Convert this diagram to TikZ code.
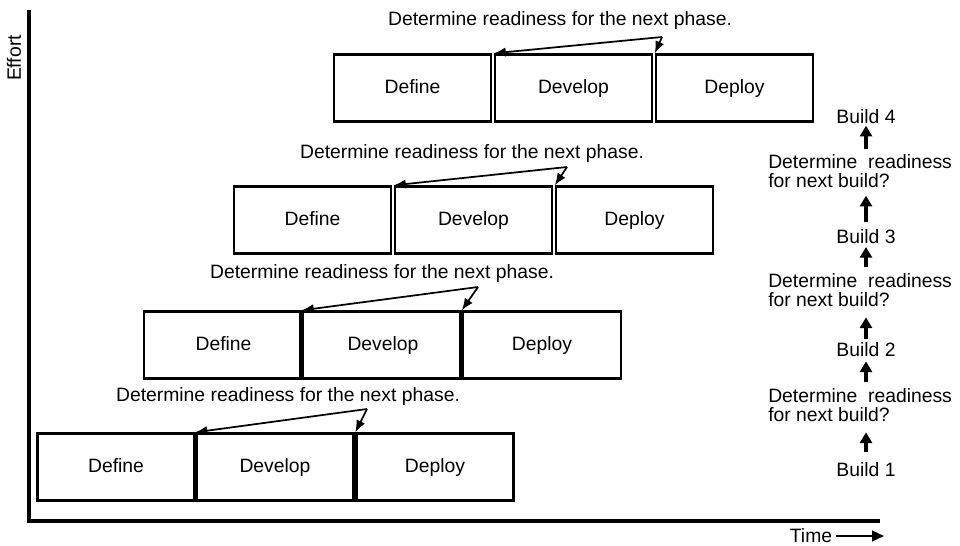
\documentclass[tikz,border=0pt]{standalone}
\usepackage{fontspec}
\setmainfont{Liberation Sans}
\usetikzlibrary{arrows.meta}
\begin{document}
\begin{tikzpicture}[x=0.75pt,y=-0.75pt,
  every node/.style={font=\fontsize{14.5}{14}\selectfont},
  phasebox/.style={draw, line width=1.8pt, minimum width=117.75pt, minimum height=50.25pt, inner sep=0pt, text height=10.5pt, text depth=3pt},
  lbl/.style={inner sep=0pt},
  parrow/.style={line width=1.3pt, -{Latex[length=9pt,width=7pt]}},
  barrow/.style={line width=2.6pt, -{Triangle[length=8pt,width=9pt]}},
  axis/.style={line width=2.4pt},
  thicksep/.style={line width=3.8pt}]
\useasboundingbox (0,0) rectangle (960,546);

% axes
\coordinate (ytop) at (29,10);
\coordinate (xend) at (880,521);
\draw[axis] (ytop) |- (xend);
\node[lbl, rotate=90] (effort) at (14,58) {Effort};
\node[lbl] (time) at (811,536) {Time};
\coordinate (tend) at (884,536);
\draw[line width=1.8pt, -{Triangle[length=9pt,width=8pt]}, shorten <=3pt] (time.east) -- (tend);

% row 1
\node[phasebox] (df1) at (412.5,88) {Define};
\node[phasebox] (dv1) at (573.5,88) {Develop};
\node[phasebox] (dp1) at (734.5,88) {Deploy};
\node[lbl] (l1) at (560,21) {Determine readiness for the next phase.};
\coordinate (a1) at (662,37);
\draw[parrow] (a1) -- (dv1.north west);
\draw[parrow] (a1) -- (dp1.north west);

% row 2
\node[phasebox] (df2) at (312.5,220) {Define};
\node[phasebox] (dv2) at (473.5,220) {Develop};
\node[phasebox] (dp2) at (634.5,220) {Deploy};
\node[lbl] (l2) at (472,153) {Determine readiness for the next phase.};
\coordinate (a2) at (567,167);
\draw[parrow] (a2) -- (dv2.north west);
\draw[parrow] (a2) -- (dp2.north west);

% row 3
\node[phasebox, minimum width=119.25pt] (df3) at (223.5,345) {Define};
\node[phasebox, minimum width=120pt] (dv3) at (383,345) {Develop};
\node[phasebox, minimum width=118.5pt] (dp3) at (542,345) {Deploy};
\draw[thicksep] (dv3.north west) -- (dv3.south west);
\draw[thicksep] (dp3.north west) -- (dp3.south west);
\node[lbl] (l3) at (382,273) {Determine readiness for the next phase.};
\coordinate (a3) at (478,287);
\draw[parrow] (a3) -- (dv3.north west);
\draw[parrow] (a3) -- (dp3.north west);

% row 4
\node[phasebox] (df4) at (116,467) {Define};
\node[phasebox] (dv4) at (275,467) {Develop};
\node[phasebox] (dp4) at (435,467) {Deploy};
\node[lbl] (l4) at (288,396) {Determine readiness for the next phase.};
\coordinate (a4) at (367,409);
\draw[parrow] (a4) -- (dv4.north west);
\draw[parrow] (a4) -- (dp4.north west);

% builds column
\node[lbl] (b4) at (866,117) {Build 4};
\node[lbl, anchor=west, align=left] (q3) at (768,171) {Determine\hspace{8pt}readiness\\for next build?};
\node[lbl] (b3) at (866,237) {Build 3};
\node[lbl, anchor=west, align=left] (q2) at (768,290) {Determine\hspace{8pt}readiness\\for next build?};
\node[lbl] (b2) at (866,350) {Build 2};
\node[lbl, anchor=west, align=left] (q1) at (768,405) {Determine\hspace{8pt}readiness\\for next build?};
\node[lbl] (b1) at (866,470) {Build 1};

\draw[barrow, shorten <=8pt, shorten >=8pt] (b1.north) -- (b1.north |- q1.south);
\draw[barrow, shorten <=5pt, shorten >=3pt] (b1.north |- q1.north) -- (b2.south);
\draw[barrow, shorten <=3pt, shorten >=8pt] (b2.north) -- (b2.north |- q2.south);
\draw[barrow, shorten <=5pt, shorten >=2pt] (b2.north |- q2.north) -- (b3.south);
\draw[barrow, shorten <=6pt, shorten >=6pt] (b3.north) -- (b3.north |- q3.south);
\draw[barrow, shorten <=4pt, shorten >=1pt] (b3.north |- q3.north) -- (b4.south);
\end{tikzpicture}
\end{document}
